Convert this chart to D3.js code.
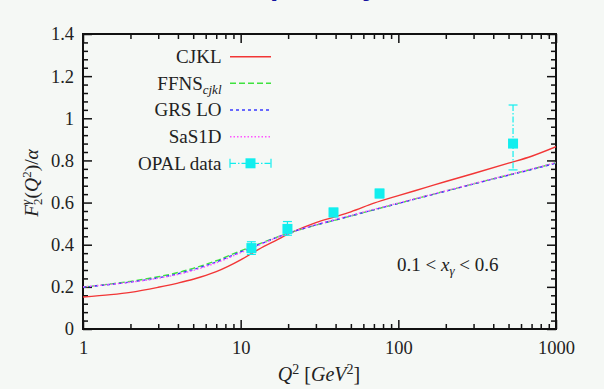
<!DOCTYPE html>
<html>
<head>
<meta charset="utf-8">
<script src="https://cdn.jsdelivr.net/npm/d3@7"></script>
<style>
  html, body { margin: 0; padding: 0; background: #f5f8f5; }
  svg { display: block; }
  text { font-family: "Liberation Serif", "DejaVu Serif", serif; fill: #222; }
</style>
</head>
<body>
<svg id="chart" width="604" height="389"></svg>
<script>
// Photon structure function F2^γ(Q²)/α, averaged over 0.1 < x_γ < 0.6

// Q² grid for the model curves (GeV²)
const q2Grid = [1, 1.5, 2, 3, 4, 5, 7, 10, 13, 17, 20, 25, 30, 40, 50, 70, 100, 150, 200, 300, 500, 700, 1000];

// Parametrisations
const cjkl  = [0.152, 0.163, 0.174, 0.198, 0.218, 0.236, 0.272, 0.328, 0.378, 0.423, 0.450, 0.482, 0.505, 0.533, 0.556, 0.597, 0.633, 0.672, 0.700, 0.738, 0.787, 0.820, 0.865];
const ffns  = [0.199, 0.214, 0.226, 0.248, 0.268, 0.288, 0.324, 0.371, 0.403, 0.436, 0.455, 0.476, 0.493, 0.517, 0.536, 0.566, 0.596, 0.631, 0.655, 0.689, 0.731, 0.758, 0.789];
const grsLO = [0.198, 0.212, 0.223, 0.243, 0.262, 0.282, 0.318, 0.366, 0.400, 0.435, 0.455, 0.477, 0.494, 0.518, 0.537, 0.566, 0.596, 0.630, 0.654, 0.688, 0.730, 0.757, 0.787];
const sas1d = [0.200, 0.212, 0.222, 0.241, 0.259, 0.278, 0.314, 0.362, 0.398, 0.434, 0.454, 0.477, 0.495, 0.520, 0.539, 0.568, 0.598, 0.632, 0.656, 0.690, 0.732, 0.759, 0.790];

// OPAL measurements
const opalQ2      = [11.7, 19.8, 38.8, 76, 534];
const opalF2      = [0.384, 0.475, 0.553, 0.643, 0.880];
const opalErrUp   = [0.030, 0.035, 0.020, 0.020, 0.183];
const opalErrDown = [0.030, 0.030, 0.020, 0.020, 0.125];

// Axis ticks
const xMajorTicks = [1, 10, 100, 1000];
const xTickLabels = ["1", "10", "100", "1000"];
const yMajorTicks = [0, 0.2, 0.4, 0.6, 0.8, 1, 1.2, 1.4];
const yTickLabels = ["0", "0.2", "0.4", "0.6", "0.8", "1", "1.2", "1.4"];

const svg = d3.select("#chart");
const W = 604, H = 389;
const margin = { left: 83, right: 48, top: 34, bottom: 60 };
const iw = W - margin.left - margin.right;
const ih = H - margin.top - margin.bottom;

// Heading above the chart (it runs off the top edge; only descenders show)
svg.append("text")
  .attr("y", -5)
  .style("font-family", "'Liberation Sans', Arial, sans-serif")
  .style("font-weight", "bold")
  .style("font-size", "30px")
  .style("fill", "#1414a0")
  .call(t => {
    t.append("tspan").attr("x", 270).text("p");
    t.append("tspan").attr("x", 362).text("y");
  });

const g = svg.append("g").attr("transform", `translate(${margin.left},${margin.top})`);

const x = d3.scaleLog().domain([1, 1000]).range([0, iw]);
const y = d3.scaleLinear().domain([0, 1.4]).range([ih, 0]);

// Minor ticks
const xMinor = [];
[1, 10, 100].forEach(d => { for (let k = 2; k <= 9; k++) xMinor.push(d * k); });
const yMinor = d3.range(0, 36).map(i => +(i * 0.04).toFixed(2))
  .filter(v => !yMajorTicks.some(m => Math.abs(m - v) < 1e-6));

const tickFont = "18.5px";

function styleAxis(sel) {
  sel.select(".domain").remove();
  sel.selectAll(".tick line").attr("stroke", "#111").attr("stroke-width", 1.5);
  sel.selectAll("text").style("font-family", "'Liberation Serif', 'DejaVu Serif', serif")
    .style("font-size", tickFont).attr("fill", "#222");
}

// Bottom axis (labels) and minor ticks
g.append("g").attr("transform", `translate(0,${ih})`)
  .call(d3.axisBottom(x).tickValues(xMajorTicks).tickSize(-9).tickPadding(12)
    .tickFormat((d, i) => xTickLabels[i]))
  .call(styleAxis);
g.append("g").attr("transform", `translate(0,${ih})`)
  .call(d3.axisBottom(x).tickValues(xMinor).tickSize(-5).tickFormat(""))
  .call(styleAxis);
// Top axis mirror
g.append("g")
  .call(d3.axisTop(x).tickValues(xMajorTicks).tickSize(-9).tickFormat(""))
  .call(styleAxis);
g.append("g")
  .call(d3.axisTop(x).tickValues(xMinor).tickSize(-5).tickFormat(""))
  .call(styleAxis);

// Left axis (labels) and minor ticks
g.append("g")
  .call(d3.axisLeft(y).tickValues(yMajorTicks).tickSize(-9).tickPadding(9)
    .tickFormat((d, i) => yTickLabels[i]))
  .call(styleAxis);
g.append("g")
  .call(d3.axisLeft(y).tickValues(yMinor).tickSize(-5).tickFormat(""))
  .call(styleAxis);
// Right axis mirror
g.append("g").attr("transform", `translate(${iw},0)`)
  .call(d3.axisRight(y).tickValues(yMajorTicks).tickSize(-9).tickFormat(""))
  .call(styleAxis);
g.append("g").attr("transform", `translate(${iw},0)`)
  .call(d3.axisRight(y).tickValues(yMinor).tickSize(-5).tickFormat(""))
  .call(styleAxis);

// Plot frame
g.append("rect").attr("width", iw).attr("height", ih)
  .attr("fill", "none").attr("stroke", "#111").attr("stroke-width", 2);

// Model curves
const series = [
  { name: "CJKL",  values: cjkl,  color: "#f23636", dash: null },
  { name: "FFNS",  values: ffns,  color: "#3ee23e", dash: "6,3" },
  { name: "GRS LO", values: grsLO, color: "#3a3aff", dash: "3,3" },
  { name: "SaS1D", values: sas1d, color: "#ff55ff", dash: "1.5,2" }
];

const line = d3.line()
  .x(d => x(d[0]))
  .y(d => y(d[1]))
  .curve(d3.curveMonotoneX);

g.append("clipPath").attr("id", "plotclip")
  .append("rect").attr("width", iw).attr("height", ih);

const curves = g.append("g").attr("clip-path", "url(#plotclip)");
series.forEach(s => {
  curves.append("path")
    .datum(q2Grid.map((q, i) => [q, s.values[i]]))
    .attr("fill", "none")
    .attr("stroke", s.color)
    .attr("stroke-width", 1.4)
    .attr("stroke-dasharray", s.dash)
    .attr("d", line);
});

// OPAL data with asymmetric error bars
const dataColor = "#12eeee";
const opal = opalQ2.map((q, i) => ({ q, v: opalF2[i], up: opalErrUp[i], dn: opalErrDown[i] }));
const pts = g.append("g");
opal.forEach(d => {
  const cx = x(d.q);
  pts.append("line")
    .attr("x1", cx).attr("x2", cx)
    .attr("y1", y(d.v + d.up)).attr("y2", y(d.v - d.dn))
    .attr("stroke", dataColor).attr("stroke-width", 1.2)
    .attr("stroke-dasharray", "6,2,1.5,2");
  [d.v + d.up, d.v - d.dn].forEach(e => {
    pts.append("line")
      .attr("x1", cx - 4.5).attr("x2", cx + 4.5)
      .attr("y1", y(e)).attr("y2", y(e))
      .attr("stroke", dataColor).attr("stroke-width", 1.2);
  });
  pts.append("rect")
    .attr("x", cx - 5).attr("y", y(d.v) - 5)
    .attr("width", 10).attr("height", 10)
    .attr("fill", dataColor);
});

// Legend
const legFont = "19px";
const legX = 221.5, lineX0 = 230, lineX1 = 271;
const legRows = [56.7, 83.3, 110, 136.7, 163.3];
const leg = svg.append("g");

function legendLabel(yPos, build) {
  const t = leg.append("text")
    .attr("x", legX).attr("y", yPos).attr("dy", "0.33em")
    .attr("text-anchor", "end")
    .style("font-size", legFont);
  build(t);
}

legendLabel(legRows[0], t => t.text("CJKL"));
legendLabel(legRows[1], t => {
  t.append("tspan").text("FFNS");
  t.append("tspan").attr("dy", 4).style("font-size", "13px").style("font-style", "italic").text("cjkl");
});
legendLabel(legRows[2], t => t.text("GRS LO"));
legendLabel(legRows[3], t => t.text("SaS1D"));
legendLabel(legRows[4], t => t.text("OPAL data"));

series.forEach((s, i) => {
  leg.append("line")
    .attr("x1", lineX0).attr("x2", lineX1)
    .attr("y1", legRows[i]).attr("y2", legRows[i])
    .attr("stroke", s.color).attr("stroke-width", 1.4)
    .attr("stroke-dasharray", s.dash);
});
{
  const ly = legRows[4], mid = (lineX0 + lineX1) / 2;
  leg.append("line").attr("x1", lineX0).attr("x2", lineX1).attr("y1", ly).attr("y2", ly)
    .attr("stroke", dataColor).attr("stroke-width", 1.2).attr("stroke-dasharray", "6,2,1.5,2");
  [lineX0, lineX1].forEach(xx => leg.append("line")
    .attr("x1", xx).attr("x2", xx).attr("y1", ly - 4.5).attr("y2", ly + 4.5)
    .attr("stroke", dataColor).attr("stroke-width", 1.2));
  leg.append("rect").attr("x", mid - 5).attr("y", ly - 5).attr("width", 10).attr("height", 10)
    .attr("fill", dataColor);
}

// Kinematic range annotation
svg.append("text")
  .attr("x", 397).attr("y", 271)
  .style("font-size", "19px")
  .call(t => {
    t.append("tspan").text("0.1 < ");
    t.append("tspan").style("font-style", "italic").text("x");
    t.append("tspan").attr("dy", 4).style("font-size", "13px").style("font-style", "italic").text("γ");
    t.append("tspan").attr("dy", -4).text(" < 0.6");
  });

// X axis title: Q² [GeV²]
svg.append("text")
  .attr("x", 319).attr("y", 381)
  .attr("text-anchor", "middle")
  .style("font-size", "20px")
  .call(t => {
    t.append("tspan").style("font-style", "italic").text("Q");
    t.append("tspan").attr("dy", -7).style("font-size", "14px").text("2");
    t.append("tspan").attr("dy", 7).text(" [");
    t.append("tspan").style("font-style", "italic").text("GeV");
    t.append("tspan").attr("dy", -7).style("font-size", "14px").text("2");
    t.append("tspan").attr("dy", 7).text("]");
  });

// Y axis title: F2^γ(Q²)/α
{
  const t = svg.append("text")
    .attr("transform", "translate(38,183) rotate(-90)")
    .attr("text-anchor", "middle")
    .style("font-size", "19.5px");
  t.append("tspan").style("font-style", "italic").text("F");
  const sup = t.append("tspan").attr("dy", -8).style("font-size", "13px").style("font-style", "italic").text("γ");
  const wSup = sup.node().getComputedTextLength();
  const sub = t.append("tspan").attr("dx", -wSup).attr("dy", 12).style("font-size", "13px").text("2");
  const wSub = sub.node().getComputedTextLength();
  t.append("tspan").attr("dx", Math.max(0, wSup - wSub)).attr("dy", -4).text("(");
  t.append("tspan").style("font-style", "italic").text("Q");
  t.append("tspan").attr("dy", -7).style("font-size", "13px").text("2");
  t.append("tspan").attr("dy", 7).text(")/");
  t.append("tspan").style("font-style", "italic").text("α");
}
</script>
</body>
</html>
